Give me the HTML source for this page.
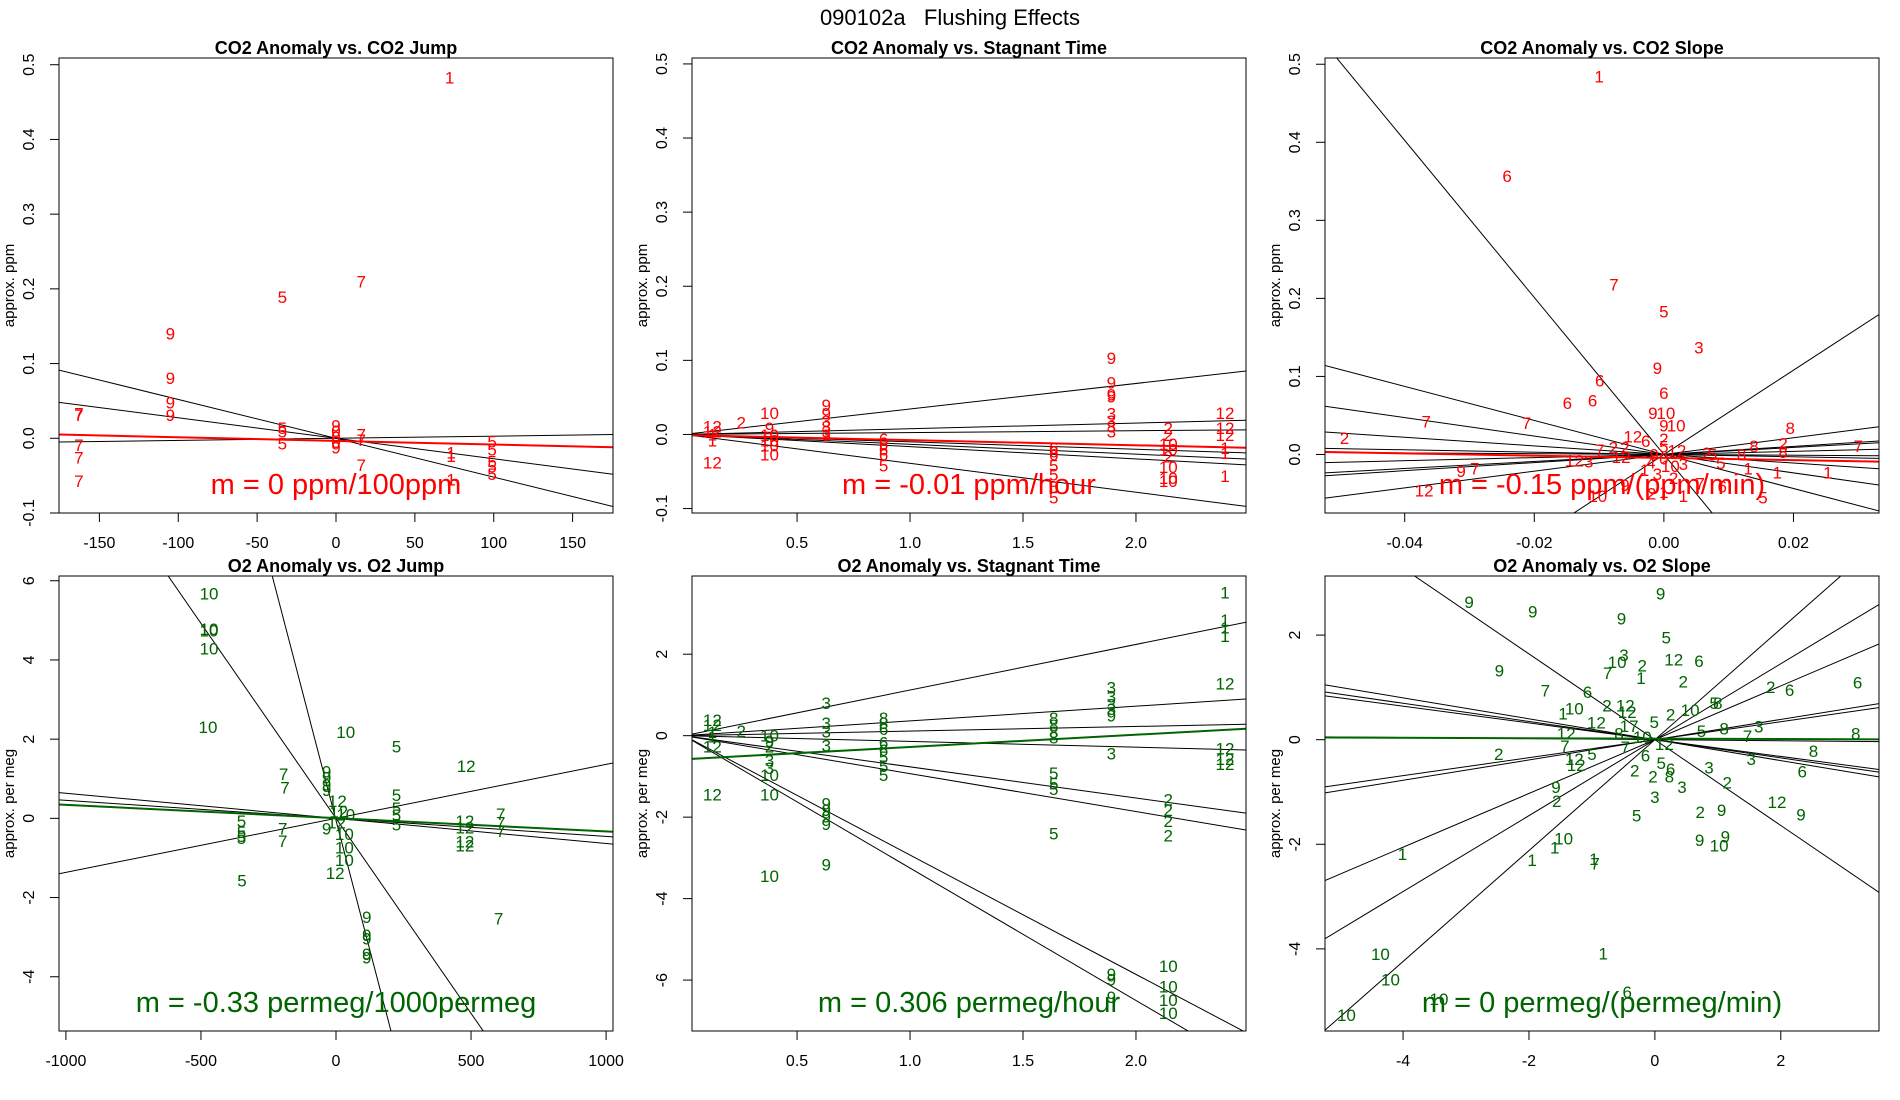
<!DOCTYPE html>
<html><head><meta charset="utf-8">
<style>
html,body{margin:0;padding:0;background:#fff;width:1900px;height:1100px;overflow:hidden;}
svg{display:block;font-family:"Liberation Sans",Arial,sans-serif;}
</style></head>
<body>
<svg id="chart" width="1900" height="1100" viewBox="0 0 1900 1100" xmlns="http://www.w3.org/2000/svg">
<rect x="0" y="0" width="1900" height="1100" fill="#fff"/>
<text x="950" y="25" text-anchor="middle" font-size="22" fill="#000" style="white-space:pre">090102a &#160; Flushing Effects</text>
</svg>
<script>
// ---- Panel 1: CO2 Anomaly vs CO2 Jump ----
const p1X=[72,-34,16,-105,-105,-105,-105,-163,-163,-163,-163,-163,-34,-34,-34,0,0,0,0,0,16,16,16,73,73,73,99,99,99,99,99];
const p1Y=[0.483,0.189,0.21,0.14,0.081,0.048,0.031,0.033,0.031,-0.009,-0.026,-0.057,0.014,0.009,-0.007,0.017,0.010,0.002,-0.005,-0.012,0.005,-0.002,-0.036,-0.019,-0.024,-0.055,-0.004,-0.015,-0.031,-0.038,-0.048];
const p1Lab=["1","5","7","9","9","9","9","7","7","7","7","7","5","5","5","9","0","0","0","9","7","7","7","1","1","1","5","5","5","5","5"];
const p1Slopes=[-0.00052,-0.000274,0.0000286];
const p1Ints=[0,0,0];
const p1FitSlope=[-0.0000486];
const p1FitInt=[-0.0035];
const p1XTicks=[-150,-100,-50,0,50,100,150];
const p1YTicks=[-0.1,0,0.1,0.2,0.3,0.4,0.5];
const p1YTickLab=["-0.1","0.0","0.1","0.2","0.3","0.4","0.5"];

// ---- Panel 2: CO2 Anomaly vs Stagnant Time ----
const p2X=[0.125,0.125,0.125,0.125,0.125,0.253,0.378,0.378,0.378,0.378,0.378,0.378,0.629,0.629,0.629,0.629,0.629,0.629,0.883,0.883,0.883,0.883,0.883,1.636,1.636,1.636,1.636,1.636,1.636,1.636,1.891,1.891,1.891,1.891,1.891,1.891,1.891,1.891,2.143,2.143,2.143,2.143,2.143,2.143,2.143,2.143,2.394,2.394,2.394,2.394,2.394,2.394];
const p2Y=[0.011,0.004,0.0,-0.008,-0.038,0.016,0.029,0.009,-0.001,-0.008,-0.015,-0.027,0.04,0.028,0.018,0.011,0.004,-0.001,-0.006,-0.013,-0.02,-0.027,-0.042,-0.018,-0.023,-0.027,-0.042,-0.054,-0.071,-0.085,0.103,0.07,0.054,0.051,0.028,0.018,0.011,0.004,0.009,-0.001,-0.013,-0.02,-0.03,-0.044,-0.059,-0.063,0.029,0.009,-0.001,-0.018,-0.025,-0.056];
const p2Lab=["12","12","1","1","12","2","10","9","10","10","10","10","9","9","3","3","3","3","6","6","6","6","5","6","6","6","5","5","5","5","9","9","9","9","3","3","3","3","2","2","10","10","2","10","10","10","12","12","12","1","1","1"];
const p2Slopes=[0.0344,0.0077,0.0025,-0.01,-0.0133,-0.0165,-0.039];
const p2Ints=[0,0,0,0,0,0,0];
const p2FitSlope=[-0.0069];
const p2FitInt=[-0.0008];
const p2XTicks=[0.5,1.0,1.5,2.0];
const p2XTickLab=["0.5","1.0","1.5","2.0"];
const p2YTicks=[-0.1,0,0.1,0.2,0.3,0.4,0.5];
const p2YTickLab=["-0.1","0.0","0.1","0.2","0.3","0.4","0.5"];

// ---- Panel 3: CO2 Anomaly vs CO2 Slope ----
const p3X=[-0.01,-0.0242,-0.0077,0,0.0054,-0.001,-0.0099,0,-0.0149,-0.011,-0.0017,0.0003,0,0.0019,-0.0367,-0.0212,-0.0493,0.0195,0.03,0.0184,0.0184,0.0139,0.012,-0.0048,-0.0028,-0.0099,-0.0078,-0.006,-0.0138,-0.0116,-0.0066,-0.0313,-0.0292,-0.037,-0.0102,0.0175,0.0253,0.013,0.0153,0.0088,0.0066,0.0075,0.003,0.009,0.0056,-0.006,-0.0019,0,0,0,0,0.001,-0.001,0.002,-0.002,0.0015,-0.0015,0.003,-0.003];
const p3Y=[0.484,0.357,0.218,0.183,0.137,0.111,0.095,0.079,0.066,0.069,0.053,0.053,0.037,0.037,0.042,0.040,0.021,0.034,0.011,0.014,0.003,0.011,0.0,0.023,0.017,0.006,0.009,0.009,-0.008,-0.009,-0.003,-0.021,-0.018,-0.046,-0.053,-0.023,-0.023,-0.018,-0.055,-0.011,0.002,0.0,-0.053,-0.041,-0.037,-0.039,-0.05,-0.048,0.02,0.01,-0.005,-0.015,-0.025,0.005,-0.01,-0.03,0.0,-0.012,-0.02];
const p3Lab=["1","6","7","5","3","9","6","6","6","6","9","10","9","10","7","7","2","8","7","2","8","8","8","12","6","7","2","2","12","3","12","9","7","12","10","1","1","1","5","5","2","5","1","6","7","9","2","1","2","5","0","10","3","12","4","2","9","3","1"];
const p3Slopes=[-10.06,5.4,-2.18,-1.18,-0.55,-0.149,0.45,0.52,1.07,0.2,-0.05];
const p3Ints=[0,0,0,0,0,0,0,0,0,0,0];
const p3FitSlope=[-0.145];
const p3FitInt=[-0.0044];
const p3XTicks=[-0.04,-0.02,0,0.02];
const p3XTickLab=["-0.04","-0.02","0.00","0.02"];
const p3YTicks=[0,0.1,0.2,0.3,0.4,0.5];
const p3YTickLab=["0.0","0.1","0.2","0.3","0.4","0.5"];

// ---- Panel 4: O2 Anomaly vs O2 Jump ----
const p4X=[-470,-470,-470,-470,-474,36,224,482,-194,-189,-35,-35,-35,-35,224,224,224,224,5,10,2,36,-35,31,31,31,-3,-350,-350,-350,-350,-348,-197,-197,477,477,477,477,610,610,610,602,114,114,114,114,114];
const p4Y=[5.68,4.78,4.75,4.29,2.31,2.18,1.82,1.32,1.12,0.78,1.18,1.03,0.85,0.71,0.59,0.26,0.08,-0.16,0.44,0.17,-0.1,0.1,-0.26,-0.39,-0.73,-1.05,-1.38,-0.07,-0.35,-0.44,-0.5,-1.57,-0.26,-0.57,-0.07,-0.23,-0.59,-0.68,0.11,-0.1,-0.32,-2.53,-2.49,-2.94,-3.03,-3.43,-3.52];
const p4Lab=["10","10","10","10","10","10","5","12","7","7","9","9","9","9","5","5","5","5","12","12","12","10","9","10","10","10","12","5","5","5","5","5","7","7","12","12","12","12","7","7","7","7","9","9","9","9","9"];
const p4Slopes=[-0.00985,-0.02614,0.001363,-0.000635,-0.000455];
const p4Ints=[0,-0.05,0,0,0];
const p4FitSlope=[-0.000336];
const p4FitInt=[0.005];
const p4XTicks=[-1000,-500,0,500,1000];
const p4YTicks=[-4,-2,0,2,4,6];

// ---- Panel 5: O2 Anomaly vs Stagnant Time ----
const p5X=[2.394,2.394,2.394,2.394,2.394,2.394,2.394,2.394,1.891,1.891,1.891,1.891,1.891,1.891,0.629,0.629,0.629,0.629,0.629,0.629,0.629,0.629,0.629,0.883,0.883,0.883,0.883,0.883,0.883,0.883,0.883,1.636,1.636,1.636,1.636,1.636,1.636,1.636,1.636,2.143,2.143,2.143,2.143,2.143,2.143,2.143,2.143,1.891,1.891,1.891,0.125,0.125,0.125,0.125,0.125,0.125,0.253,0.378,0.378,0.378,0.378,0.378,0.378,0.378,0.378];
const p5Y=[3.51,2.84,2.66,2.45,1.28,-0.31,-0.57,-0.7,1.18,0.96,0.77,0.66,0.5,-0.44,0.8,0.31,0.1,-0.24,-1.66,-1.83,-1.99,-2.17,-3.16,0.44,0.31,0.17,-0.17,-0.35,-0.52,-0.74,-0.96,0.44,0.26,0.09,-0.04,-0.92,-1.18,-1.31,-2.4,-1.57,-1.83,-2.1,-2.45,-5.66,-6.16,-6.49,-6.81,-5.85,-5.98,-6.42,0.39,0.26,0.09,-0.02,-0.26,-1.44,0.11,0,-0.13,-0.26,-0.61,-0.79,-0.96,-1.44,-3.45];
const p5Lab=["1","1","1","1","12","12","12","12","3","3","3","3","9","3","3","3","3","3","9","9","9","9","9","8","8","6","6","6","5","5","5","8","8","8","8","5","5","5","5","2","2","2","2","10","10","10","10","9","9","9","12","12","1","1","12","12","2","10","9","2","3","3","10","10","10"];
const p5Slopes=[1.12,0.362,0.113,-0.141,-0.765,-0.931,-3.25,-2.93];
const p5Ints=[0,0,0,0,0,0,0,0];
const p5FitSlope=[0.302];
const p5FitInt=[-0.58];
const p5XTicks=[0.5,1.0,1.5,2.0];
const p5XTickLab=["0.5","1.0","1.5","2.0"];
const p5YTicks=[-6,-4,-2,0,2];

// ---- Panel 6: O2 Anomaly vs O2 Slope ----
const p6X=[-2.95,-1.94,-0.53,0.09,0.18,-0.49,-0.6,-0.2,0.3,0.7,-2.47,-0.75,-0.22,0.45,-1.74,-1.07,1.84,2.14,3.22,-0.76,-0.47,-0.44,-1.46,-1.28,0.94,1.0,-0.93,-0.01,0.25,0.56,-1.41,-1.43,-0.57,-0.41,0.74,1.1,1.47,1.65,3.19,2.52,2.34,-2.48,-1.0,-1.28,-1.25,-0.47,-0.32,-0.03,0.25,0.23,0.43,0.86,1.53,0.15,1.15,-1.57,-1.56,0,1.94,2.32,0.72,1.06,-0.29,0.71,1.12,1.02,-1.45,-1.59,-1.95,-0.97,-0.95,-4.01,-0.82,-4.36,-4.2,-4.9,-3.43,-0.44,-0.2,-0.15,0.1];
const p6Y=[2.63,2.45,2.32,2.8,1.95,1.62,1.49,1.42,1.53,1.5,1.32,1.28,1.18,1.11,0.94,0.91,1.01,0.95,1.09,0.65,0.65,0.53,0.5,0.6,0.7,0.7,0.33,0.34,0.48,0.57,0.12,-0.12,0.12,0.26,0.17,0.21,0.07,0.25,0.12,-0.22,-0.61,-0.27,-0.27,-0.37,-0.48,-0.14,-0.59,-0.7,-0.56,-0.7,-0.9,-0.53,-0.37,-0.08,-0.82,-0.9,-1.17,-1.1,-1.19,-1.43,-1.38,-1.34,-1.45,-1.92,-1.85,-2.02,-1.89,-2.06,-2.3,-2.28,-2.37,-2.19,-4.09,-4.1,-4.59,-5.26,-4.96,-4.82,0.05,-0.3,-0.45];
const p6Lab=["9","9","9","9","5","3","10","2","12","6","9","7","1","2","7","6","2","6","6","2","12","12","1","10","5","8","12","5","2","10","12","7","8","17","5","8","7","3","8","8","6","2","5","12","12","7","2","2","6","8","3","3","3","12","2","9","2","3","12","9","2","9","5","9","9","10","10","1","1","1","7","1","1","10","10","10","10","6","10","6","5"];
const p6Slopes=[-0.82,1.06,0.726,0.514,0.194,0.172,-0.2,-0.174,-0.16,-0.0105];
const p6Ints=[0,0,0,0,0,0,0,0,0,0];
const p6FitSlope=[-0.004];
const p6FitInt=[0.02];
const p6XTicks=[-4,-2,0,2];
const p6YTicks=[-4,-2,0,2];

const NS="http://www.w3.org/2000/svg";
const svg=document.getElementById('chart');
function mk(tag,attrs,parent){const e=document.createElementNS(NS,tag);for(const k in attrs)e.setAttribute(k,attrs[k]);(parent||svg).appendChild(e);return e;}

function panel(o){
  const L=o.left,R=o.left+554,T=o.top,B=o.top+455;
  const sx=v=>L+(v-o.xmin)/(o.xmax-o.xmin)*(R-L);
  const sy=v=>B-(v-o.ymin)/(o.ymax-o.ymin)*(B-T);
  const g=mk('g',{});
  
  
  const cid='clip-'+o.name;
  const cp=mk('clipPath',{id:cid},g);
  mk('rect',{x:L,y:T,width:R-L,height:B-T},cp);
  const t=mk('text',{x:(L+R)/2,y:T-4,'text-anchor':'middle','font-size':18,'font-weight':'bold',fill:'#000'},g);
  t.textContent=o.title;
  
  
  const yl=mk('text',{x:0,y:0,transform:'translate('+(L-45)+','+((T+B)/2)+') rotate(-90)','text-anchor':'middle','font-size':15,fill:'#000'},g);
  yl.textContent=o.ylab;
  
  
  o.xt.forEach((v,i)=>{
    const x=sx(v);
    mk('line',{x1:x,x2:x,y1:B,y2:B+9,stroke:'#000','stroke-width':1},g);
    const tl=mk('text',{x:x,y:B+35,'text-anchor':'middle','font-size':16,fill:'#000'},g);
    tl.textContent=o.xtl?o.xtl[i]:String(v);
    
    
  });
  mk('line',{x1:sx(o.xt[0]),x2:sx(o.xt[o.xt.length-1]),y1:B,y2:B,stroke:'#000'},g);
  o.yt.forEach((v,i)=>{
    const y=sy(v);
    mk('line',{x1:L,x2:L-9,y1:y,y2:y,stroke:'#000','stroke-width':1},g);
    const tl=mk('text',{x:0,y:0,transform:'translate('+(L-25)+','+y+') rotate(-90)','text-anchor':'middle','font-size':16,fill:'#000'},g);
    tl.textContent=o.ytl?o.ytl[i]:String(v);
    
    
  });
  const cg=mk('g',{'clip-path':'url(#'+cid+')'},g);
  o.slopes.forEach((s,i)=>{
    const ln=mk('line',{x1:sx(o.xmin),y1:sy(o.ints[i]+s*o.xmin),x2:sx(o.xmax),y2:sy(o.ints[i]+s*o.xmax),stroke:'#000','stroke-width':1},cg);
    
    
  });
  o.px.forEach((v,i)=>{
    const pt=mk('text',{x:sx(v),y:sy(o.py[i])+6,'text-anchor':'middle','font-size':17,fill:o.color},cg);
    pt.textContent=o.lab[i];
    
    
  });
  o.fs.forEach((s,i)=>{
    const ln=mk('line',{x1:sx(o.xmin),y1:sy(o.fi[i]+s*o.xmin),x2:sx(o.xmax),y2:sy(o.fi[i]+s*o.xmax),stroke:o.color,'stroke-width':2},cg);
    
    
  });
  const m=mk('text',{x:(L+R)/2,y:o.top+436,'text-anchor':'middle','font-size':29,fill:o.color},g);
  m.textContent=o.mtext;
  
  
  const bx=mk('rect',{x:L,y:T,width:R-L,height:B-T,fill:'none',stroke:'#000','stroke-width':1},g);
  
  
}
const RED='#ff0000',GRN='#006400';
panel({name:'co2-jump',left:59,top:58,xmin:-175.6,xmax:175.6,ymin:-0.1,ymax:0.509,title:'CO2 Anomaly vs. CO2 Jump',ylab:'approx. ppm',xt:p1XTicks,yt:p1YTicks,ytl:p1YTickLab,px:p1X,py:p1Y,lab:p1Lab,slopes:p1Slopes,ints:p1Ints,fs:p1FitSlope,fi:p1FitInt,color:RED,mtext:'m = 0 ppm/100ppm'});
panel({name:'co2-stagnant',left:692,top:58,xmin:0.035,xmax:2.487,ymin:-0.106,ymax:0.508,title:'CO2 Anomaly vs. Stagnant Time',ylab:'approx. ppm',xt:p2XTicks,xtl:p2XTickLab,yt:p2YTicks,ytl:p2YTickLab,px:p2X,py:p2Y,lab:p2Lab,slopes:p2Slopes,ints:p2Ints,fs:p2FitSlope,fi:p2FitInt,color:RED,mtext:'m = -0.01 ppm/hour'});
panel({name:'co2-slope',left:1325,top:58,xmin:-0.0523,xmax:0.0332,ymin:-0.075,ymax:0.508,title:'CO2 Anomaly vs. CO2 Slope',ylab:'approx. ppm',xt:p3XTicks,xtl:p3XTickLab,yt:p3YTicks,ytl:p3YTickLab,px:p3X,py:p3Y,lab:p3Lab,slopes:p3Slopes,ints:p3Ints,fs:p3FitSlope,fi:p3FitInt,color:RED,mtext:'m = -0.15 ppm/(ppm/min)'});
panel({name:'o2-jump',left:59,top:576,xmin:-1025.6,xmax:1025.6,ymin:-5.37,ymax:6.12,title:'O2 Anomaly vs. O2 Jump',ylab:'approx. per meg',xt:p4XTicks,yt:p4YTicks,px:p4X,py:p4Y,lab:p4Lab,slopes:p4Slopes,ints:p4Ints,fs:p4FitSlope,fi:p4FitInt,color:GRN,mtext:'m = -0.33 permeg/1000permeg'});
panel({name:'o2-stagnant',left:692,top:576,xmin:0.035,xmax:2.487,ymin:-7.25,ymax:3.92,title:'O2 Anomaly vs. Stagnant Time',ylab:'approx. per meg',xt:p5XTicks,xtl:p5XTickLab,yt:p5YTicks,px:p5X,py:p5Y,lab:p5Lab,slopes:p5Slopes,ints:p5Ints,fs:p5FitSlope,fi:p5FitInt,color:GRN,mtext:'m = 0.306 permeg/hour'});
panel({name:'o2-slope',left:1325,top:576,xmin:-5.24,xmax:3.56,ymin:-5.57,ymax:3.13,title:'O2 Anomaly vs. O2 Slope',ylab:'approx. per meg',xt:p6XTicks,yt:p6YTicks,px:p6X,py:p6Y,lab:p6Lab,slopes:p6Slopes,ints:p6Ints,fs:p6FitSlope,fi:p6FitInt,color:GRN,mtext:'m = 0 permeg/(permeg/min)'});
</script>
</body></html>
